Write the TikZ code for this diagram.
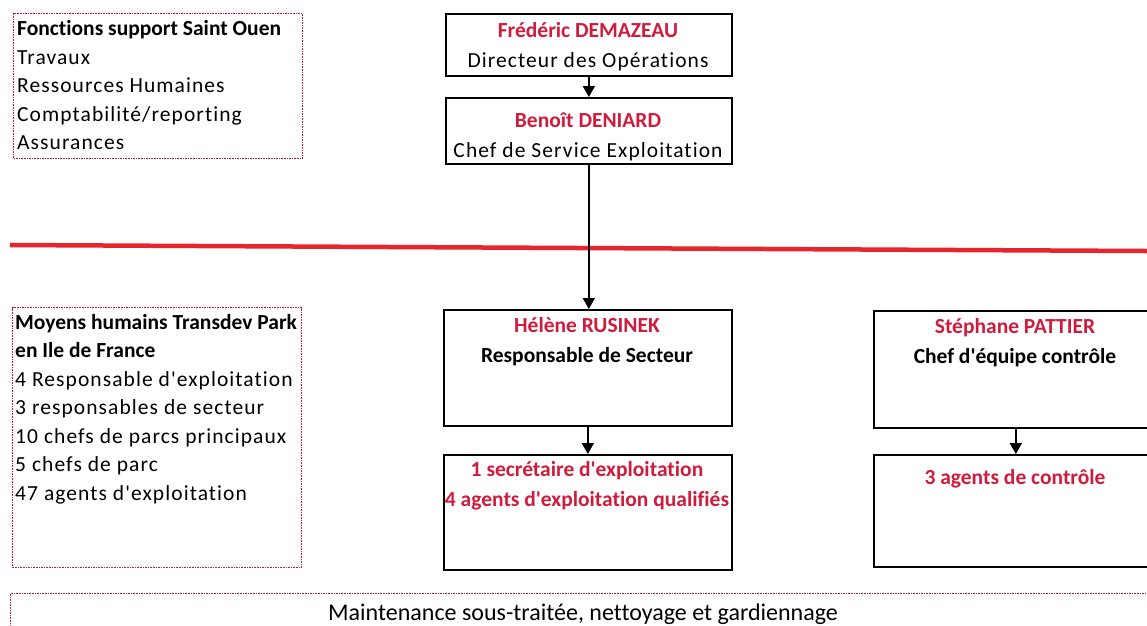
\documentclass[tikz,border=0pt]{standalone}
\usepackage{fontspec}
\newfontfamily\police{Carlito}[Ligatures=NoCommon]
\newfontfamily\espacee{Carlito}[Ligatures=NoCommon, LetterSpace=5]
\usetikzlibrary{positioning,arrows.meta}

\definecolor{nomrouge}{RGB}{208,28,60}
\definecolor{pointille}{RGB}{190,30,70}
\definecolor{traitrouge}{RGB}{232,36,44}
\newcommand{\nom}[1]{\textcolor{nomrouge}{\bfseries #1}}

\begin{document}
\begin{tikzpicture}[x=1pt, y=-1pt,
  box/.style={draw, line width=1.7pt, anchor=north west, inner sep=0pt},
  cadre/.style={draw=pointille, dash pattern=on 1.6pt off 1pt, line width=1.1pt, anchor=north west, inner sep=0pt},
  texte/.style={anchor=base, align=center, inner sep=0pt, font=\police\fontsize{21.5}{29.5}\selectfont},
  liste/.style={anchor=base west, align=left, inner sep=0pt, font=\police\fontsize{21.5}{28.5}\selectfont},
  arrow/.style={-{Triangle[width=12pt,length=11pt]}, line width=1.6pt}
]
\useasboundingbox (0,0) rectangle (1147,625);

% direction (base = derniere ligne)
\node[box, minimum width=286pt, minimum height=62pt] (directeur) at (445,13) {};
\node[texte] (directeur-t) at (588,67) {\nom{Frédéric DEMAZEAU}\\{\espacee Directeur des Opérations}};
\node[box, minimum width=286pt, minimum height=66pt] (chef) at (445,97) {};
\node[texte] (chef-t) at (588,157) {\nom{Benoît DENIARD}\\{\espacee Chef de Service Exploitation}};

% fonctions support
\node[cadre, minimum width=289pt, minimum height=145pt] (support) at (13,13) {};
\node[liste] (support-t) at (17,149.5) {\textbf{Fonctions support Saint Ouen}\\{\espacee Travaux}\\{\espacee Ressources Humaines}\\{\espacee Comptabilité/reporting}\\{\espacee Assurances}};

% separation
\draw[traitrouge, line width=4.5pt] (10,245) -- (1147,251);

% moyens humains
\node[cadre, minimum width=289pt, minimum height=260pt] (moyens) at (12,307) {};
\node[liste] (moyens-t) at (15,500) {\textbf{Moyens humains Transdev Park}\\\textbf{en Ile de France}\\{\espacee 4 Responsable d'exploitation}\\{\espacee 3 responsables de secteur}\\{\espacee 10 chefs de parcs principaux}\\{\espacee 5 chefs de parc}\\{\espacee 47 agents d'exploitation}};

% secteur
\node[box, minimum width=288pt, minimum height=116pt] (secteur) at (443,309) {};
\node[texte] (secteur-t) at (587,362) {\nom{Hélène RUSINEK}\\\textbf{Responsable de Secteur}};
\node[box, minimum width=288pt, minimum height=115pt] (exploitation) at (443,454) {};
\node[texte] (exploitation-t) at (587,506) {\nom{1 secrétaire d'exploitation}\\\nom{4 agents d'exploitation qualifiés}};

% controle
\node[box, minimum width=284pt, minimum height=117pt] (controle) at (873,310) {};
\node[texte] (controle-t) at (1015,363) {\nom{Stéphane PATTIER}\\\textbf{Chef d'équipe contrôle}};
\node[box, minimum width=284pt, minimum height=112pt] (agents) at (873,454) {};
\node[texte] (agents-t) at (1015,484) {\nom{3 agents de contrôle}};

% maintenance
\node[cadre, minimum width=1150pt, minimum height=50pt] (maintenance) at (10,593) {};
\node[texte, font=\police\fontsize{24}{28}\selectfont] (maintenance-t) at (583,620) {Maintenance sous-traitée, nettoyage et gardiennage};

\draw[arrow] (directeur) -- (chef);
\draw[arrow] (chef.south) -- (chef.south |- secteur.north);
\draw[arrow] (secteur) -- (exploitation);
\draw[arrow] (controle) -- (agents);

\end{tikzpicture}
\end{document}
